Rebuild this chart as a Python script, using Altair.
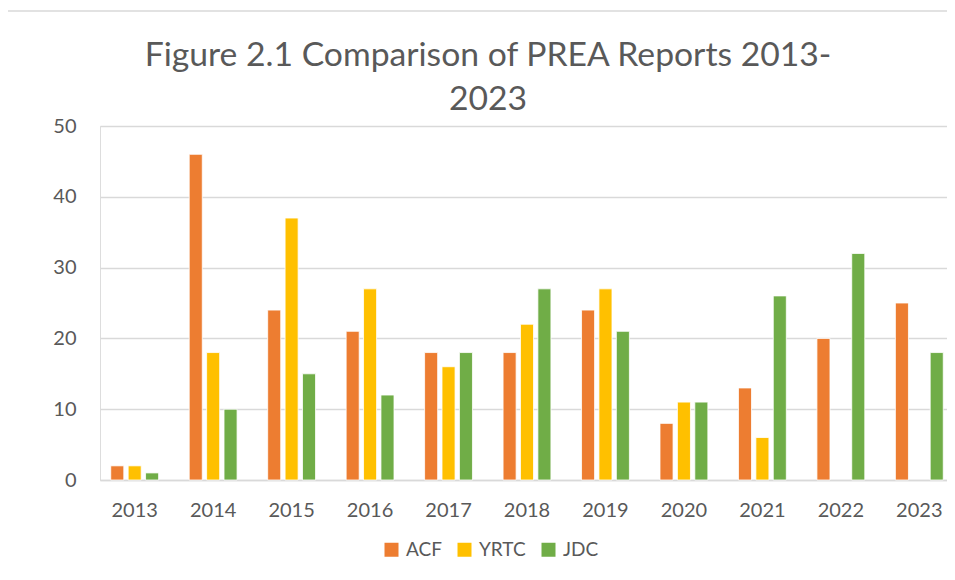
import altair as alt
import pandas as pd

years = ["2013", "2014", "2015", "2016", "2017", "2018", "2019", "2020", "2021", "2022", "2023"]
acf = [2, 46, 24, 21, 18, 18, 24, 8, 13, 20, 25]
yrtc = [2, 18, 37, 27, 16, 22, 27, 11, 6, None, None]
jdc = [1, 10, 15, 12, 18, 27, 21, 11, 26, 32, 18]
series = ["ACF", "YRTC", "JDC"]
colors = ["#ED7D31", "#FFC000", "#70AD47"]
title_lines = ["Figure 2.1 Comparison of PREA Reports 2013-", "2023"]

rows = []
for name, vals in zip(series, [acf, yrtc, jdc]):
    for y, v in zip(years, vals):
        rows.append({"Year": y, "Series": name, "Value": v})
df = pd.DataFrame(rows)

FONT = "Lato"
TXT = "#595959"
W, H = 854, 354

bars = alt.Chart(df).mark_bar(stroke="white", strokeWidth=0.8).encode(
    x=alt.X("Year:N", sort=years, title=None,
            scale=alt.Scale(paddingInner=0.39, paddingOuter=0.137),
            axis=alt.Axis(labelAngle=0, labelFontSize=20, labelColor=TXT,
                          labelFont=FONT, ticks=False, domainColor="#D9D9D9",
                          domainWidth=1.5, labelPadding=20)),
    xOffset=alt.XOffset("Series:N", sort=series,
                        scale=alt.Scale(domain=series, paddingInner=0.25)),
    y=alt.Y("Value:Q", title=None,
            scale=alt.Scale(domain=[0, 50]),
            axis=alt.Axis(values=[0, 10, 20, 30, 40, 50], labelFontSize=20,
                          labelColor=TXT, labelFont=FONT, ticks=False,
                          domain=False, gridColor="#D9D9D9", gridWidth=1.5,
                          labelPadding=24)),
    color=alt.Color("Series:N", sort=series,
                    scale=alt.Scale(domain=series, range=colors),
                    legend=alt.Legend(title=None, orient="none", direction="horizontal",
                                      legendX=282, legendY=414,
                                      symbolType="square", symbolSize=196,
                                      symbolStrokeWidth=0,
                                      labelFontSize=19, labelColor=TXT,
                                      labelFont=FONT, columnPadding=13,
                                      labelOffset=5)),
)

frame = alt.Chart(pd.DataFrame({"a": [0]})).mark_rect(
    fill=None, stroke="#D9D9D9", strokeWidth=1.5
).encode(
    x=alt.value(-95), x2=alt.value(W + 60),
    y=alt.value(-115), y2=alt.value(H + 200),
)

title = alt.Chart(pd.DataFrame({"a": [0]})).mark_text(
    text=title_lines, font=FONT, fontSize=33.7, fontWeight="normal", color=TXT,
    align="center", baseline="alphabetic", lineHeight=44,
).encode(x=alt.value(388), y=alt.value(-60))

chart = alt.layer(frame, title, bars).properties(
    width=W, height=H,
    autosize=alt.AutoSizeParams(type="none"),
    padding={"left": 92, "top": 118, "right": -7, "bottom": 98},
).configure_view(stroke="transparent", strokeWidth=0).configure(background="white")

chart.save("out.html", embed_options={"renderer": "svg", "actions": False})
